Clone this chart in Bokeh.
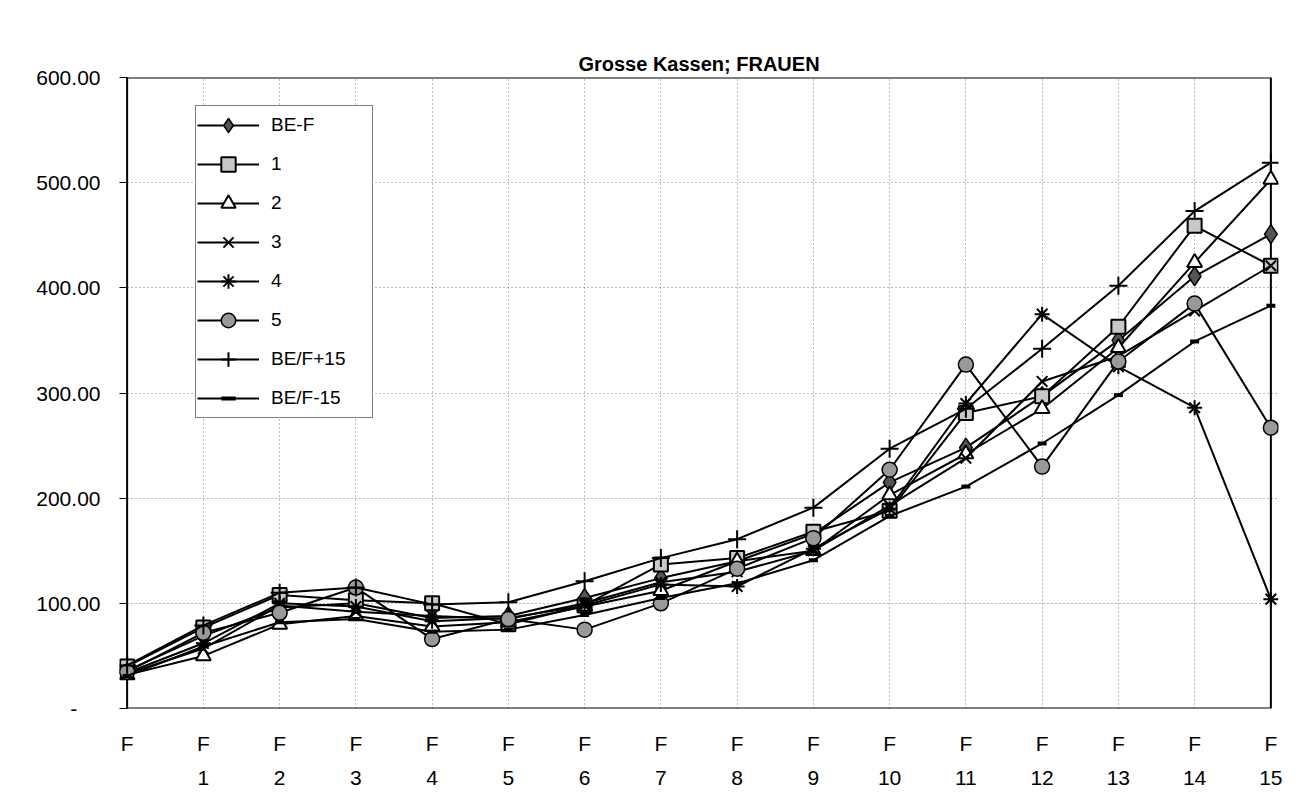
from bokeh.plotting import figure
from bokeh.models import FixedTicker, LinearAxis, Legend, LegendItem, Range1d, Grid
from bokeh.embed import file_html
from bokeh.resources import INLINE

# ---------------- data ----------------
x_pos = list(range(16))
x_labels_top = ["F"] * 16
x_labels_bottom = [""] + [str(i) for i in range(1, 16)]
y_ticks = [0, 100, 200, 300, 400, 500, 600]
y_labels = ["-\u00a0\u00a0\u00a0\u00a0", "100.00", "200.00", "300.00", "400.00", "500.00", "600.00"]

series_names = ["BE-F", "1", "2", "3", "4", "5", "BE/F+15", "BE/F-15"]
be_f     = [36, 69, 96, 100, 86, 88, 105, 124, 140, 166, 215, 248, 297, 350, 411, 451]
s1       = [40, 77, 108, 103, 100, 80, 98, 137, 143, 168, 188, 281, 297, 363, 459, 421]
s2       = [32, 50, 80, 88, 78, 82, 97, 112, 140, 150, 203, 242, 285, 343, 424, 503]
s3       = [33, 57, 98, 92, 88, 85, 100, 120, 130, 150, 193, 238, 311, 335, 378, 421]
s4       = [34, 62, 100, 97, 83, 86, 98, 118, 116, 152, 190, 290, 375, 325, 286, 104]
s5       = [35, 72, 91, 115, 66, 85, 75, 100, 133, 162, 227, 327, 230, 330, 385, 267]
be_plus  = [41, 79, 110, 115, 99, 101, 121, 143, 161, 191, 247, 285, 342, 402, 473, 519]
be_minus = [31, 59, 82, 85, 73, 75, 89, 105, 119, 141, 183, 211, 252, 298, 349, 383]
all_series = [be_f, s1, s2, s3, s4, s5, be_plus, be_minus]

FONT = "Liberation Sans"

p = figure(width=1300, height=800,
           x_range=Range1d(-0.1, 15.1), y_range=Range1d(0, 600),
           output_backend="svg", toolbar_location=None,
           min_border_left=119, min_border_right=22, min_border_top=77, min_border_bottom=92,
           x_axis_type=None, y_axis_type=None)
p.outline_line_color = None
p.background_fill_color = "white"
p.border_fill_color = "white"

p.title.text = "Grosse Kassen; FRAUEN"
p.title.align = "center"
p.title.text_font = FONT
p.title.text_font_size = "20px"
p.title.text_font_style = "bold"
p.title.text_color = "black"
p.title.standoff = 5

# y axis
yax = LinearAxis(ticker=FixedTicker(ticks=y_ticks))
yax.major_label_overrides = {t: l for t, l in zip(y_ticks, y_labels)}
yax.major_label_text_font = FONT
yax.major_label_text_font_size = "21px"
yax.major_label_text_color = "black"
yax.axis_line_color = None
yax.major_tick_out = 0
yax.major_tick_in = 8
yax.major_tick_line_color = "black"
yax.major_tick_line_width = 1
yax.minor_tick_line_color = None
yax.major_label_standoff = 19
p.add_layout(yax, "left")

# x axes (two rows of labels)
xax1 = LinearAxis(ticker=FixedTicker(ticks=x_pos))
xax1.major_label_overrides = {t: l for t, l in zip(x_pos, x_labels_top)}
xax2 = LinearAxis(ticker=FixedTicker(ticks=x_pos))
xax2.major_label_overrides = {t: l for t, l in zip(x_pos, x_labels_bottom)}
for ax, so in ((xax1, 17), (xax2, 7)):
    ax.major_label_text_font = FONT
    ax.major_label_text_font_size = "21px"
    ax.major_label_text_color = "black"
    ax.axis_line_color = None
    ax.major_tick_line_color = None
    ax.minor_tick_line_color = None
    ax.major_label_standoff = so
    p.add_layout(ax, "below")

# grid
p.add_layout(Grid(dimension=0, ticker=FixedTicker(ticks=x_pos), grid_line_color="#777",
                  grid_line_dash="1 3", grid_line_width=1))
p.add_layout(Grid(dimension=1, ticker=FixedTicker(ticks=y_ticks), grid_line_color="#777",
                  grid_line_dash="1 3", grid_line_width=1))

# plot area frame (left, bottom, top, right edges)
x0, x1 = x_pos[0], x_pos[-1]
y0, y1 = y_ticks[0], y_ticks[-1]
p.line([x0, x0], [y0, y1], line_color="black", line_width=2)
p.line([x0, x1], [y0, y0], line_color="black", line_width=2)
p.line([x0, x1], [y1, y1], line_color="black", line_width=2)
p.line([x1, x1], [y0, y1], line_color="black", line_width=2)

styles = [
    dict(marker="diamond", size=19, fill_color="#555555", line_width=1.5),
    dict(marker="square", size=14, fill_color="#c8c8c8", line_width=2),
    dict(marker="triangle", size=15, fill_color="white", line_width=2),
    dict(marker="x", size=15, fill_color=None, line_width=2),
    dict(marker="asterisk", size=15, fill_color=None, line_width=2),
    dict(marker="circle", size=15, fill_color="#999999", line_width=1.5),
    dict(marker="cross", size=18, fill_color=None, line_width=2),
    dict(marker="dash", size=9, fill_color=None, line_width=4),
]

items = []
for name, ys, st in zip(series_names, all_series, styles):
    r1 = p.line(x_pos, ys, line_color="black", line_width=2)
    r2 = p.scatter(x_pos, ys, line_color="black", **st)
    items.append(LegendItem(label=name, renderers=[r1, r2]))

leg = Legend(items=items, location=(76, 290))
leg.label_text_font = FONT
leg.label_text_font_size = "19px"
leg.label_text_color = "black"
leg.glyph_width = 62
leg.glyph_height = 36
leg.label_height = 20
leg.label_width = 100
leg.spacing = 3
leg.padding = 1
leg.margin = 0
leg.label_standoff = 12
leg.border_line_color = "black"
leg.border_line_width = 1
leg.background_fill_alpha = 1
p.add_layout(leg, "center")

open("out.html", "w").write(file_html(p, INLINE))
